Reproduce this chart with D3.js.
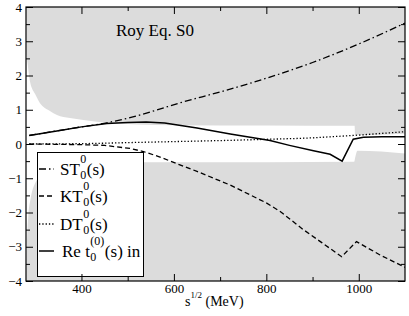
<!DOCTYPE html>
<html lang="en">
<head>
<meta charset="utf-8">
<title>Roy Eq. S0</title>
<script src="https://cdn.jsdelivr.net/npm/d3@7"></script>
<style>
  body { margin: 0; background: #fff; }
  svg text { font-family: "Liberation Serif", "Times New Roman", serif; fill: #000; }
  .axis path { display: none; }
  .axis line { stroke: #000; stroke-width: 1; }
  .axis text { font-size: 13px; }
</style>
</head>
<body>
<script>
// --- data (x in MeV) ---
var stX = [287, 350, 400, 455, 505, 560, 613, 700, 800, 900, 1000, 1100];
var stY = [0.25, 0.39, 0.5, 0.62, 0.77, 0.98, 1.2, 1.52, 1.92, 2.38, 2.92, 3.53];

var ktX = [287, 350, 400, 450, 505, 534, 570, 613, 650, 722, 800, 830, 880, 920, 963, 995, 1046, 1100];
var ktY = [0.0, -0.01, -0.02, -0.04, -0.13, -0.22, -0.38, -0.61, -0.8, -1.2, -1.72, -1.97, -2.5, -2.88, -3.29, -2.85, -3.24, -3.6];

var dtX = [287, 400, 500, 600, 700, 808, 900, 938, 1000, 1050, 1100];
var dtY = [0.0, 0.01, 0.04, 0.07, 0.1, 0.14, 0.18, 0.21, 0.26, 0.31, 0.36];

var reX = [287, 350, 400, 455, 500, 540, 580, 650, 722, 808, 850, 902, 938, 964, 988, 1010, 1050, 1100];
var reY = [0.25, 0.39, 0.5, 0.6, 0.63, 0.64, 0.61, 0.47, 0.29, 0.1, -0.04, -0.2, -0.3, -0.5, 0.14, 0.2, 0.21, 0.21];

// grey band boundaries
var upX = [280.3, 281, 282, 284, 289, 300, 310, 330, 347, 375, 404, 463, 520, 600, 800, 991, 992, 1100];
var upY = [4, 3.2, 2.6, 2.3, 1.8, 1.45, 1.2, 0.98, 0.85, 0.76, 0.7, 0.61, 0.57, 0.55, 0.54, 0.53, 0.26, 0.3];
var loX = [280.3, 282, 285, 290, 300, 320, 350, 400, 460, 520, 800, 990, 993, 997, 1100];
var loY = [-4, -3, -2.1, -1.6, -1.14, -0.85, -0.7, -0.6, -0.55, -0.53, -0.53, -0.52, -0.35, -0.2, -0.28];

var xMajor = [400, 600, 800, 1000];
var xMinor = [500, 700, 900];
var yMajor = [-4, -3, -2, -1, 0, 1, 2, 3, 4];
var yMinor = [-3.5, -2.5, -1.5, -0.5, 0.5, 1.5, 2.5, 3.5];

var legendLabels = ["ST", "KT", "DT", "Re t"];
var legendSup = ["0", "0", "0", "(0)"];
var legendSub = ["0", "0", "0", "0"];
var legendTail = ["(s)", "(s)", "(s)", "(s) in"];

function zip(xs, ys) { return xs.map(function(v, i){ return [v, ys[i]]; }); }

var width = 409, height = 316;
var pl = 26, pr = 405, pt = 7, pb = 281;

var x = d3.scaleLinear().domain([280, 1100]).range([pl, pr]);
var y = d3.scaleLinear().domain([-4, 4]).range([pb, pt]);

var svg = d3.select("body").append("svg")
  .attr("width", width)
  .attr("height", height);

svg.append("clipPath").attr("id", "plot")
  .append("rect")
  .attr("x", pl).attr("y", pt)
  .attr("width", pr - pl).attr("height", pb - pt);

var g = svg.append("g").attr("clip-path", "url(#plot)");

// grey bands
g.append("path")
  .datum(zip(upX, upY))
  .attr("fill", "#dcdcdc")
  .attr("d", d3.area().x(function(d){ return x(d[0]); })
    .y0(y(4)).y1(function(d){ return y(d[1]); })
    .curve(d3.curveMonotoneX));
g.append("path")
  .datum(zip(loX, loY))
  .attr("fill", "#dcdcdc")
  .attr("d", d3.area().x(function(d){ return x(d[0]); })
    .y0(y(-4)).y1(function(d){ return y(d[1]); })
    .curve(d3.curveMonotoneX));

var series = [
  { pts: zip(stX, stY), dash: "7,3,1.5,3", w: 1.3, curve: d3.curveMonotoneX },
  { pts: zip(ktX, ktY), dash: "5,3", w: 1.3, curve: d3.curveLinear },
  { pts: zip(dtX, dtY), dash: "1.3,2", w: 1.3, curve: d3.curveMonotoneX },
  { pts: zip(reX, reY), dash: null, w: 1.5, curve: d3.curveLinear }
];

series.forEach(function(s){
  g.append("path")
    .datum(s.pts)
    .attr("fill", "none")
    .attr("stroke", "#000")
    .attr("stroke-width", s.w)
    .attr("stroke-dasharray", s.dash)
    .attr("d", d3.line().x(function(d){ return x(d[0]); })
      .y(function(d){ return y(d[1]); }).curve(s.curve));
});

// legend
var leg = svg.append("g");
leg.append("rect")
  .attr("x", 37.5).attr("y", 152.5)
  .attr("width", 106).attr("height", 124)
  .attr("fill", "#fff").attr("stroke", "#000");

var baselines = [175, 202, 230, 257];
series.forEach(function(s, i){
  var by = baselines[i];
  leg.append("line")
    .attr("x1", 39).attr("x2", 54)
    .attr("y1", by - 6).attr("y2", by - 6)
    .attr("stroke", "#000")
    .attr("stroke-width", s.w)
    .attr("stroke-dasharray", s.dash);
  var tx = i == 3 ? 62 : 60;
  var main = leg.append("text").attr("x", tx).attr("y", by)
    .style("font-size", "17px").text(legendLabels[i]);
  var sx = tx + main.node().getComputedTextLength() + 0.5;
  var sup = leg.append("text").attr("x", sx).attr("y", by - 12)
    .style("font-size", "12px").text(legendSup[i]);
  var sub = leg.append("text").attr("x", sx).attr("y", by + 4)
    .style("font-size", "12px").text(legendSub[i]);
  var w = Math.max(sup.node().getComputedTextLength(), sub.node().getComputedTextLength());
  leg.append("text").attr("x", sx + w + 0.5).attr("y", by)
    .style("font-size", "17px").text(legendTail[i]);
});

// axes, ticks pointing inward
function addAxis(axis, tx, ty) {
  svg.append("g").attr("class", "axis")
    .attr("transform", "translate(" + tx + "," + ty + ")")
    .call(axis);
}
addAxis(d3.axisBottom(x).tickValues(xMajor).tickSize(-7).tickPadding(3).tickFormat(d3.format("d")), 0, pb);
addAxis(d3.axisBottom(x).tickValues(xMinor).tickSize(-4).tickFormat(""), 0, pb);
addAxis(d3.axisTop(x).tickValues(xMajor).tickSize(-7).tickFormat(""), 0, pt);
addAxis(d3.axisTop(x).tickValues(xMinor).tickSize(-4).tickFormat(""), 0, pt);
addAxis(d3.axisLeft(y).tickValues(yMajor).tickSize(-7).tickPadding(4).tickFormat(d3.format("d")), pl, 0);
addAxis(d3.axisLeft(y).tickValues(yMinor).tickSize(-4).tickFormat(""), pl, 0);
addAxis(d3.axisRight(y).tickValues(yMajor).tickSize(-7).tickFormat(""), pr, 0);
addAxis(d3.axisRight(y).tickValues(yMinor).tickSize(-4).tickFormat(""), pr, 0);

svg.selectAll(".axis text").style("font-family", "Liberation Serif").style("font-size", "13px");

// frame
svg.append("rect")
  .attr("x", pl).attr("y", pt)
  .attr("width", pr - pl).attr("height", pb - pt)
  .attr("fill", "none").attr("stroke", "#000").attr("stroke-width", 1.2);

// title and axis label
svg.append("text").attr("x", 116).attr("y", 36)
  .style("font-size", "17px").text("Roy Eq. S0");

var xl = svg.append("text").attr("x", 185).attr("y", 306).style("font-size", "14px");
xl.append("tspan").text("s");
xl.append("tspan").attr("dy", -8).style("font-size", "9px").text("1/2");
xl.append("tspan").attr("dy", 8).text(" (MeV)");
</script>
</body>
</html>
